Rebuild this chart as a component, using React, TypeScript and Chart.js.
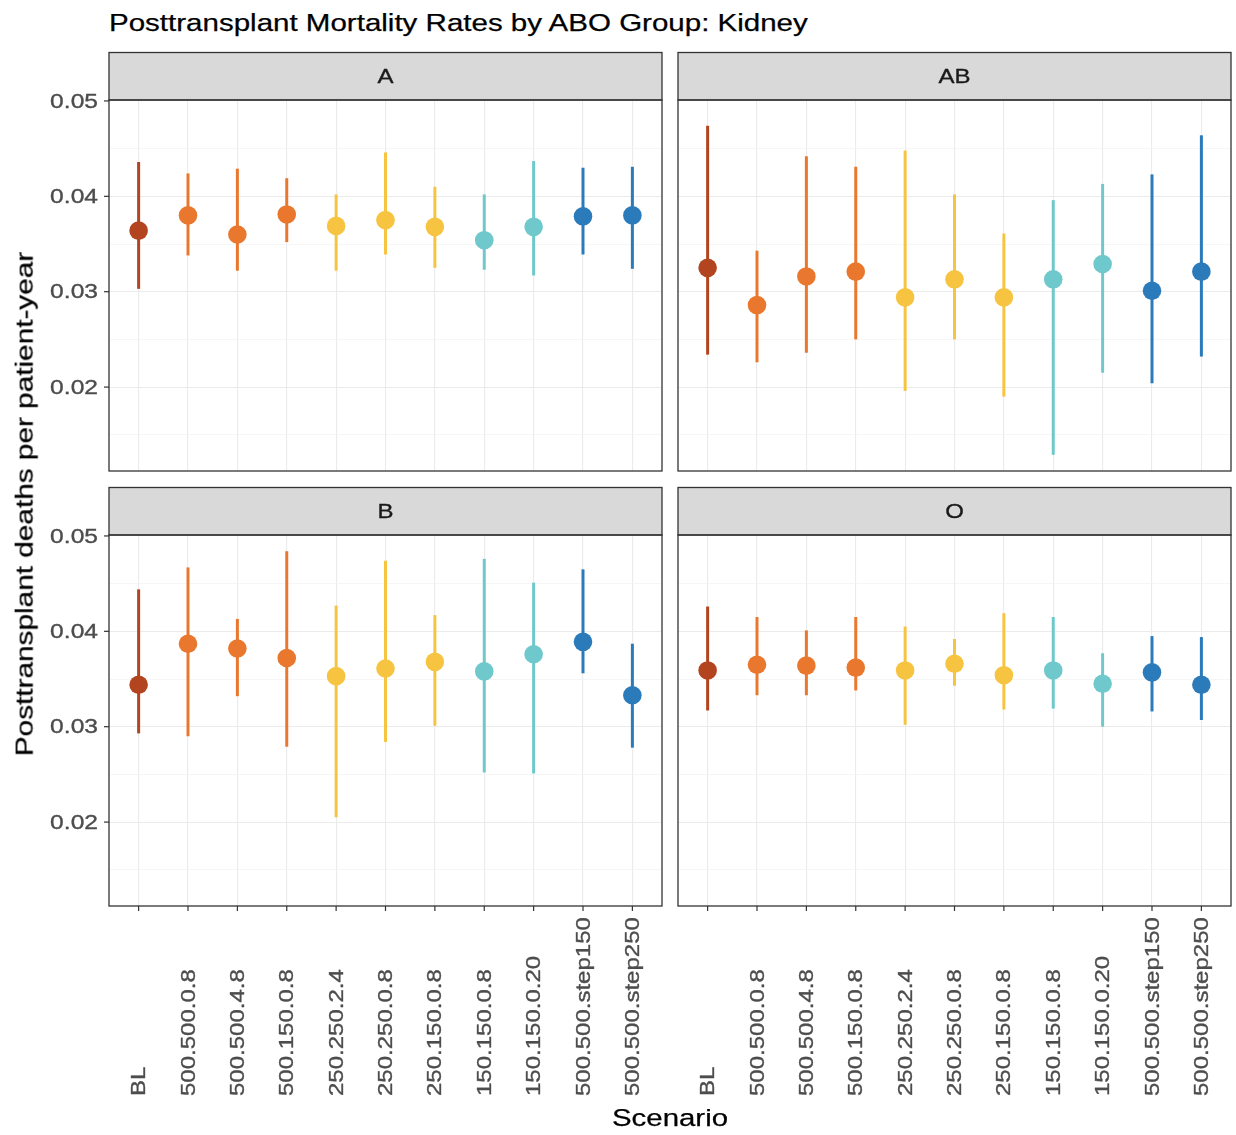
import React, { useEffect, useRef } from 'react';
import { Chart, registerables } from 'chart.js';

Chart.register(...registerables);

// ---------------- data ----------------
const SCENARIOS = [
  'BL',
  '500.500.0.8',
  '500.500.4.8',
  '500.150.0.8',
  '250.250.2.4',
  '250.250.0.8',
  '250.150.0.8',
  '150.150.0.8',
  '150.150.0.20',
  '500.500.step150',
  '500.500.step250',
];

const SCENARIO_COLORS = [
  '#b2451f',
  '#e9782e', '#e9782e', '#e9782e',
  '#f7c442', '#f7c442', '#f7c442',
  '#6fc8cc', '#6fc8cc',
  '#2b7bbb', '#2b7bbb',
];

const A_EST = [0.0364, 0.0380, 0.0360, 0.0381, 0.0369, 0.0375, 0.0368, 0.0354, 0.0368, 0.0379, 0.0380];
const A_LO = [0.0303, 0.0338, 0.0322, 0.0352, 0.0322, 0.0339, 0.0325, 0.0323, 0.0317, 0.0339, 0.0324];
const A_HI = [0.0436, 0.0424, 0.0429, 0.0419, 0.0402, 0.0446, 0.0410, 0.0402, 0.0437, 0.0430, 0.0431];

const AB_EST = [0.0325, 0.0286, 0.0316, 0.0321, 0.0294, 0.0313, 0.0294, 0.0313, 0.0329, 0.0301, 0.0321];
const AB_LO = [0.0234, 0.0226, 0.0236, 0.0250, 0.0196, 0.0250, 0.0190, 0.0129, 0.0215, 0.0204, 0.0232];
const AB_HI = [0.0474, 0.0343, 0.0442, 0.0431, 0.0448, 0.0402, 0.0361, 0.0396, 0.0413, 0.0423, 0.0464];

const B_EST = [0.0344, 0.0387, 0.0382, 0.0372, 0.0353, 0.0361, 0.0368, 0.0358, 0.0376, 0.0389, 0.0333];
const B_LO = [0.0293, 0.0290, 0.0332, 0.0279, 0.0205, 0.0284, 0.0301, 0.0252, 0.0251, 0.0356, 0.0278];
const B_HI = [0.0444, 0.0467, 0.0413, 0.0484, 0.0427, 0.0474, 0.0417, 0.0476, 0.0451, 0.0465, 0.0387];

const O_EST = [0.0359, 0.0365, 0.0364, 0.0362, 0.0359, 0.0366, 0.0354, 0.0359, 0.0345, 0.0357, 0.0344];
const O_LO = [0.0317, 0.0333, 0.0333, 0.0338, 0.0302, 0.0343, 0.0318, 0.0319, 0.0300, 0.0316, 0.0307];
const O_HI = [0.0426, 0.0415, 0.0401, 0.0415, 0.0405, 0.0392, 0.0419, 0.0415, 0.0377, 0.0395, 0.0394];

const Y_MAJOR = [0.02, 0.03, 0.04, 0.05];
const Y_MINOR = [0.015, 0.025, 0.035, 0.045];
const Y_TICK_LABELS = ['0.02', '0.03', '0.04', '0.05'];
const Y_MIN = 0.0112;
const Y_MAX = 0.0501;

const TITLE = 'Posttransplant Mortality Rates by ABO Group: Kidney';
const Y_TITLE = 'Posttransplant deaths per patient-year';
const X_TITLE = 'Scenario';

// ---------------- style ----------------
const FONT = '"Liberation Sans", Arial, Helvetica, sans-serif';
const SX = 1.2; // horizontal stretch of the reference lettering

type Panel = {
  label: string;
  est: number[];
  lo: number[];
  hi: number[];
  left: number;
  top: number;
  width: number;
  height: number;
  yAxisW: number;
  xAxisH: number;
  padTop: number;
  padRight: number;
  showX: boolean;
  showY: boolean;
};

const PANELS: Panel[] = [
  { label: 'A', est: A_EST, lo: A_LO, hi: A_HI, left: 0, top: 50, width: 670, height: 430, yAxisW: 109, xAxisH: 9, padTop: 50, padRight: 8, showX: false, showY: true },
  { label: 'AB', est: AB_EST, lo: AB_LO, hi: AB_HI, left: 670, top: 50, width: 566, height: 430, yAxisW: 8, xAxisH: 9, padTop: 50, padRight: 5, showX: false, showY: false },
  { label: 'B', est: B_EST, lo: B_LO, hi: B_HI, left: 0, top: 484, width: 670, height: 651, yAxisW: 109, xAxisH: 229, padTop: 51, padRight: 8, showX: true, showY: true },
  { label: 'O', est: O_EST, lo: O_LO, hi: O_HI, left: 670, top: 484, width: 566, height: 651, yAxisW: 8, xAxisH: 229, padTop: 51, padRight: 5, showX: true, showY: false },
];

function drawText(
  ctx: CanvasRenderingContext2D,
  text: string,
  x: number,
  y: number,
  size: number,
  color: string,
  align: CanvasTextAlign,
  baseline: CanvasTextBaseline,
  rotate: boolean
) {
  ctx.save();
  ctx.translate(x, y);
  if (rotate) ctx.rotate(-Math.PI / 2);
  ctx.scale(SX, 1);
  ctx.font = `${size}px ${FONT}`;
  ctx.fillStyle = color;
  ctx.strokeStyle = color;
  ctx.lineWidth = 0.35;
  ctx.textAlign = align;
  ctx.textBaseline = baseline;
  ctx.fillText(text, 0, 0);
  ctx.strokeText(text, 0, 0);
  ctx.restore();
}

const decorPlugin = {
  id: 'panelDecor',
  afterDraw(chart: any, _args: any, o: any) {
    const ctx: CanvasRenderingContext2D = chart.ctx;
    const a = chart.chartArea;
    const xs = chart.scales.x;
    const ys = chart.scales.y;
    const stripH = 47.5;
    ctx.save();
    // strip
    ctx.fillStyle = '#d9d9d9';
    ctx.fillRect(a.left, a.top - stripH, a.right - a.left, stripH);
    ctx.strokeStyle = '#333333';
    ctx.lineWidth = 1.3;
    ctx.strokeRect(a.left, a.top - stripH, a.right - a.left, stripH);
    // panel border
    ctx.strokeRect(a.left, a.top, a.right - a.left, a.bottom - a.top);
    drawText(ctx, o.label, (a.left + a.right) / 2, a.top - stripH / 2 + 1, 20, '#1a1a1a', 'center', 'middle', false);

    if (o.showY) {
      Y_MAJOR.forEach((v, i) => {
        const p = ys.getPixelForValue(v);
        ctx.beginPath();
        ctx.moveTo(a.left - 5, p);
        ctx.lineTo(a.left, p);
        ctx.strokeStyle = '#333333';
        ctx.lineWidth = 1.2;
        ctx.stroke();
        drawText(ctx, Y_TICK_LABELS[i], a.left - 11, p + 1, 20.5, '#4d4d4d', 'right', 'middle', false);
      });
    }
    if (o.showX) {
      SCENARIOS.forEach((s, i) => {
        const p = xs.getPixelForValue(i);
        ctx.beginPath();
        ctx.moveTo(p, a.bottom);
        ctx.lineTo(p, a.bottom + 5);
        ctx.strokeStyle = '#333333';
        ctx.lineWidth = 1.2;
        ctx.stroke();
        drawText(ctx, s, p + 1, a.bottom + 190, 20, '#4d4d4d', 'left', 'middle', true);
      });
    }
    ctx.restore();
  },
};

const isMajor = (v: number) => Y_MAJOR.some((m) => Math.abs(m - v) < 1e-9);

function PanelChart({ panel }: { panel: Panel }) {
  const ref = useRef<HTMLCanvasElement>(null);
  useEffect(() => {
    if (!ref.current) return;
    const lineSets = SCENARIOS.map((_, i) => ({
      type: 'scatter' as const,
      data: [
        { x: i, y: panel.lo[i] },
        { x: i, y: panel.hi[i] },
      ],
      showLine: true,
      borderColor: SCENARIO_COLORS[i],
      backgroundColor: SCENARIO_COLORS[i],
      borderWidth: 3,
      borderCapStyle: 'butt' as const,
      pointRadius: 0,
      order: 1,
    }));
    const pointSet = {
      type: 'scatter' as const,
      data: SCENARIOS.map((_, i) => ({ x: i, y: panel.est[i] })),
      pointRadius: 9.3,
      pointBackgroundColor: SCENARIO_COLORS,
      pointBorderWidth: 0,
      pointBorderColor: 'rgba(0,0,0,0)',
      order: 0,
    };
    const chart = new Chart(ref.current, {
      type: 'scatter',
      data: { datasets: [pointSet, ...lineSets] as any },
      plugins: [decorPlugin as any],
      options: {
        responsive: false,
        animation: false,
        events: [],
        layout: { autoPadding: false, padding: { top: panel.padTop, right: panel.padRight, left: 0, bottom: 0 } },
        plugins: {
          legend: { display: false },
          tooltip: { enabled: false },
          panelDecor: { label: panel.label, showX: panel.showX, showY: panel.showY },
        } as any,
        scales: {
          x: {
            type: 'linear',
            min: -0.6,
            max: 10.6,
            offset: false,
            grid: { color: '#ebebeb', lineWidth: 1.1, drawTicks: false, offset: false },
            border: { display: false },
            ticks: { display: false },
            afterBuildTicks: (s: any) => {
              s.ticks = SCENARIOS.map((_, i) => ({ value: i }));
            },
            afterFit: (s: any) => {
              s.height = panel.xAxisH;
            },
          },
          y: {
            type: 'linear',
            min: Y_MIN,
            max: Y_MAX,
            beginAtZero: false,
            grid: {
              color: (c: any) => (c.tick && !isMajor(c.tick.value) ? '#f2f2f2' : '#ebebeb'),
              lineWidth: (c: any) => (c.tick && !isMajor(c.tick.value) ? 0.7 : 1.1),
              drawTicks: false,
            },
            border: { display: false },
            ticks: { display: false },
            afterBuildTicks: (s: any) => {
              s.ticks = [...Y_MINOR, ...Y_MAJOR].sort((p, q) => p - q).map((v) => ({ value: v }));
            },
            afterFit: (s: any) => {
              s.width = panel.yAxisW;
            },
          },
        } as any,
      },
    });
    return () => chart.destroy();
  }, [panel]);
  return (
    <canvas
      ref={ref}
      width={panel.width}
      height={panel.height}
      style={{ position: 'absolute', left: panel.left, top: panel.top, width: panel.width, height: panel.height }}
    />
  );
}

const textStroke = { WebkitTextStroke: '0.25px #000' } as React.CSSProperties;

export default function App() {
  return (
    <div style={{ position: 'absolute', left: 0, top: 0, width: 1236, height: 1135, background: '#ffffff', overflow: 'hidden' }}>
      {PANELS.map((p) => (
        <PanelChart key={p.label} panel={p} />
      ))}
      <div
        style={{
          position: 'absolute',
          left: 109,
          top: 11,
          fontFamily: FONT,
          fontSize: 24.6,
          lineHeight: 1,
          color: '#000',
          whiteSpace: 'nowrap',
          transform: `scaleX(1.2)`,
          transformOrigin: 'left center',
          ...textStroke,
        }}
      >
        {TITLE}
      </div>
      <div
        style={{
          position: 'absolute',
          left: 25,
          top: 503.5,
          fontFamily: FONT,
          fontSize: 24.8,
          lineHeight: 1,
          color: '#000',
          whiteSpace: 'nowrap',
          transform: `translate(-50%, -50%) rotate(-90deg) scaleX(${SX})`,
          transformOrigin: 'center center',
          ...textStroke,
        }}
      >
        {Y_TITLE}
      </div>
      <div
        style={{
          position: 'absolute',
          left: 670,
          top: 1118,
          fontFamily: FONT,
          fontSize: 24.5,
          lineHeight: 1,
          color: '#000',
          whiteSpace: 'nowrap',
          transform: `translate(-50%, -50%) scaleX(${SX})`,
          transformOrigin: 'center center',
          ...textStroke,
        }}
      >
        {X_TITLE}
      </div>
    </div>
  );
}
